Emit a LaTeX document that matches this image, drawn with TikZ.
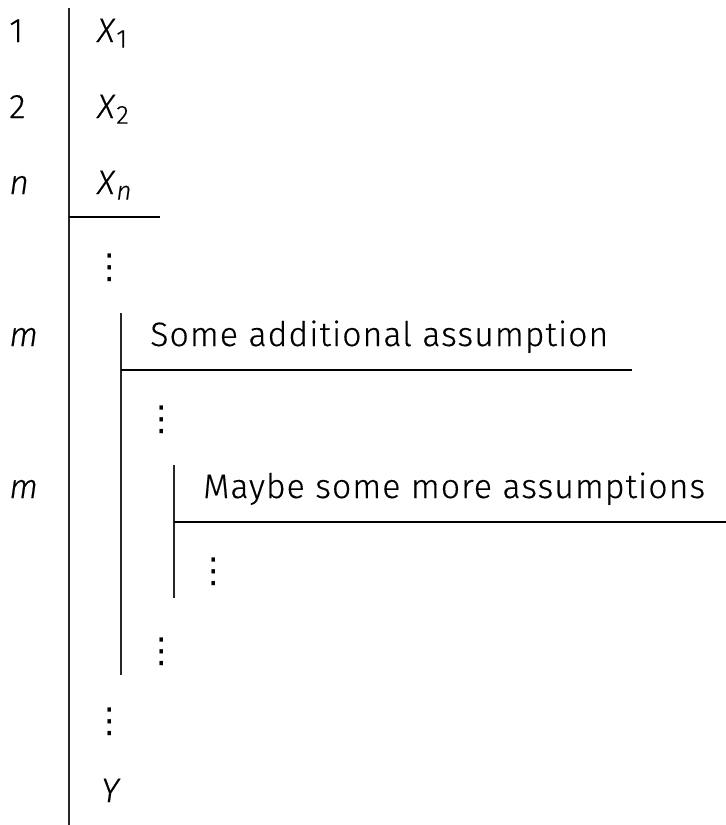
\documentclass[tikz,border=0pt]{standalone}
\usepackage{fontspec}
\setmainfont{Fira Sans}[UprightFont=* Light, ItalicFont=* Light Italic, LetterSpace=3, FakeBold=0.4]
\newfontfamily\dotfont{DejaVu Sans}
\usetikzlibrary{positioning}

\newcommand{\fvar}[2]{\textit{#1}\raisebox{-4pt}{\fontsize{18.5}{18}\selectfont #2}}

\begin{document}
\begin{tikzpicture}[
  line/.style={font=\fontsize{24.1}{30}\selectfont, anchor=base west, inner sep=0pt},
  num/.style={line},
  vdot/.style={font=\dotfont\fontsize{24.5}{28}\selectfont, anchor=center, inner sep=0pt},
  bar/.style={line width=0.9pt, black!85},
  rule/.style={line width=0.9pt, black},
]

% Frame
\useasboundingbox (0,0) rectangle (18.15,-20.625);

% ============ Premises ============
\node[num] (n1) at (0.225,-1.05) {1};
\node[line] (p1) at (2.425,-1.05) {\fvar{X}{1}};
\node[num] (n2) at (0.225,-2.95) {2};
\node[line] (p2) at (2.425,-2.95) {\fvar{X}{2}};
\node[num] (n3) at (0.225,-4.85) {\textit{n}};
\node[line] (p3) at (2.425,-4.85) {\fvar{X}{\textit{n}}};
\node[vdot] (d1) at (2.75,-6.7) {⋮};

% ============ First subproof ============
\node[num] (n4) at (0.225,-8.65) {\textit{m}};
\node[line] (a1) at (3.75,-8.65) {Some additional assumption};
\node[vdot] (d2) at (4.05,-10.5) {⋮};

% ============ Second subproof ============
\node[num] (n5) at (0.225,-12.45) {\textit{m}};
\node[line] (a2) at (5.075,-12.45) {Maybe some more assumptions};
\node[vdot] (d3) at (5.35,-14.3) {⋮};

% Closing
\node[vdot] (d4) at (4.05,-16.3) {⋮};
\node[vdot] (d5) at (2.75,-18.05) {⋮};
\node[line] (concl) at (2.525,-20.05) {\textit{Y}};

% Scope bars
\coordinate (bar0top) at (1.725,-0.2);
\coordinate (bar0bot) at (1.725,-20.625);
\coordinate (bar1top) at (3.025,-7.825);
\coordinate (bar1bot) at (3.025,-16.875);
\coordinate (bar2top) at (4.35,-11.625);
\coordinate (bar2bot) at (4.35,-14.95);
\draw[bar] (bar0top) -- (bar0bot);
\draw[bar] (bar1top) -- (bar1bot);
\draw[bar] (bar2top) -- (bar2bot);

% Assumption rules
\coordinate (rule0end) at (4.0,-5.425);
\coordinate (rule1end) at (15.8,-9.25);
\coordinate (rule2end) at (18.15,-13.05);
\draw[rule] (bar0top |- rule0end) -- (rule0end);
\draw[rule] (bar1top |- rule1end) -- (rule1end);
\draw[rule] (bar2top |- rule2end) -- (rule2end);

\end{tikzpicture}
\end{document}
